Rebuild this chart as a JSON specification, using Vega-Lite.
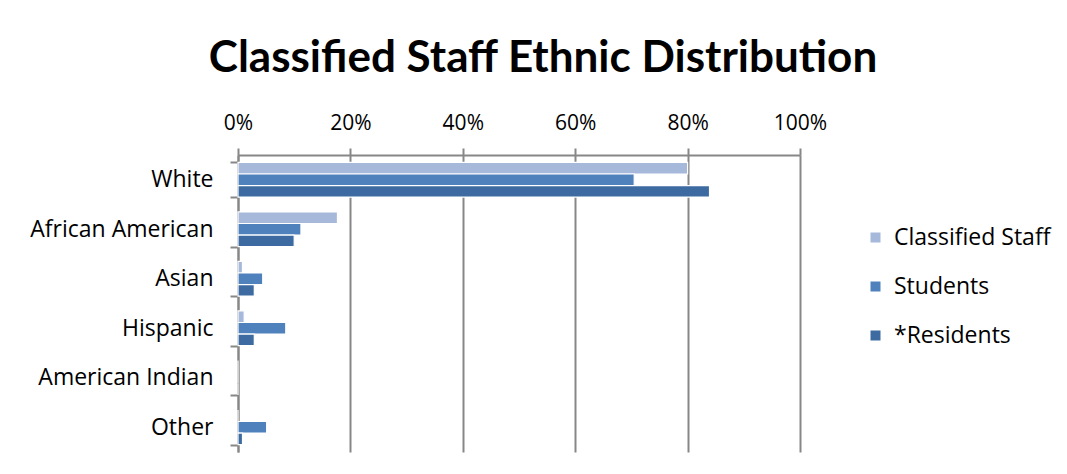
{
  "$schema": "https://vega.github.io/schema/vega-lite/v6.json",
  "width": 562,
  "height": 297,
  "autosize": {"type": "none"},
  "padding": {"left": 238, "top": 155, "right": 267, "bottom": 22},
  "background": "white",
  "title": {
    "text": "Classified Staff Ethnic Distribution",
    "font": "Lato",
    "fontSize": 44,
    "fontWeight": "bold",
    "color": "#000000",
    "anchor": "middle",
    "dx": 24,
    "offset": 31
  },
  "data": {
    "values": [
      {"ethnicity": "White", "group": "Classified Staff", "pct": 0.80},
      {"ethnicity": "White", "group": "Students", "pct": 0.705},
      {"ethnicity": "White", "group": "*Residents", "pct": 0.839},
      {"ethnicity": "African American", "group": "Classified Staff", "pct": 0.177},
      {"ethnicity": "African American", "group": "Students", "pct": 0.112},
      {"ethnicity": "African American", "group": "*Residents", "pct": 0.10},
      {"ethnicity": "Asian", "group": "Classified Staff", "pct": 0.008},
      {"ethnicity": "Asian", "group": "Students", "pct": 0.044},
      {"ethnicity": "Asian", "group": "*Residents", "pct": 0.029},
      {"ethnicity": "Hispanic", "group": "Classified Staff", "pct": 0.011},
      {"ethnicity": "Hispanic", "group": "Students", "pct": 0.085},
      {"ethnicity": "Hispanic", "group": "*Residents", "pct": 0.029},
      {"ethnicity": "American Indian", "group": "Classified Staff", "pct": 0.0},
      {"ethnicity": "American Indian", "group": "Students", "pct": 0.0},
      {"ethnicity": "American Indian", "group": "*Residents", "pct": 0.0},
      {"ethnicity": "Other", "group": "Classified Staff", "pct": 0.0},
      {"ethnicity": "Other", "group": "Students", "pct": 0.051},
      {"ethnicity": "Other", "group": "*Residents", "pct": 0.008}
    ]
  },
  "mark": {"type": "bar", "stroke": "white", "strokeWidth": 1.2},
  "encoding": {
    "y": {
      "field": "ethnicity",
      "type": "nominal",
      "sort": ["White", "African American", "Asian", "Hispanic", "American Indian", "Other"],
      "scale": {"paddingInner": 0.3, "paddingOuter": 0.15},
      "axis": {
        "title": null,
        "tickBand": "extent",
        "tickSize": 8,
        "tickColor": "#878787",
        "tickWidth": 2,
        "domainColor": "#878787",
        "domainWidth": 2,
        "labelFont": "Open Sans",
        "labelFontSize": 23,
        "labelColor": "#000000",
        "labelPadding": 17,
        "labelLimit": 400,
        "grid": false
      }
    },
    "yOffset": {
      "field": "group",
      "type": "nominal",
      "sort": ["Classified Staff", "Students", "*Residents"]
    },
    "x": {
      "field": "pct",
      "type": "quantitative",
      "scale": {"domain": [0, 1]},
      "axis": {
        "orient": "top",
        "title": null,
        "format": ".0%",
        "values": [0, 0.2, 0.4, 0.6, 0.8, 1.0],
        "labelFlush": false,
        "tickSize": 7,
        "tickColor": "#878787",
        "tickWidth": 2,
        "domainColor": "#878787",
        "domainWidth": 2,
        "gridColor": "#878787",
        "gridWidth": 2,
        "gridOpacity": 1,
        "labelFont": "Open Sans",
        "labelFontSize": 21,
        "labelColor": "#000000",
        "labelPadding": 15
      }
    },
    "color": {
      "field": "group",
      "type": "nominal",
      "sort": ["Classified Staff", "Students", "*Residents"],
      "scale": {
        "domain": ["Classified Staff", "Students", "*Residents"],
        "range": ["#A7B9DA", "#4F81BD", "#3D6AA0"]
      },
      "legend": {
        "title": null,
        "orient": "none",
        "legendX": 626,
        "legendY": 71,
        "symbolType": "square",
        "symbolSize": 100,
        "symbolStrokeWidth": 0,
        "labelFont": "Open Sans",
        "labelFontSize": 23,
        "labelColor": "#000000",
        "labelOffset": 7,
        "labelLimit": 400,
        "rowPadding": 25
      }
    }
  },
  "config": {"view": {"stroke": null}}
}
